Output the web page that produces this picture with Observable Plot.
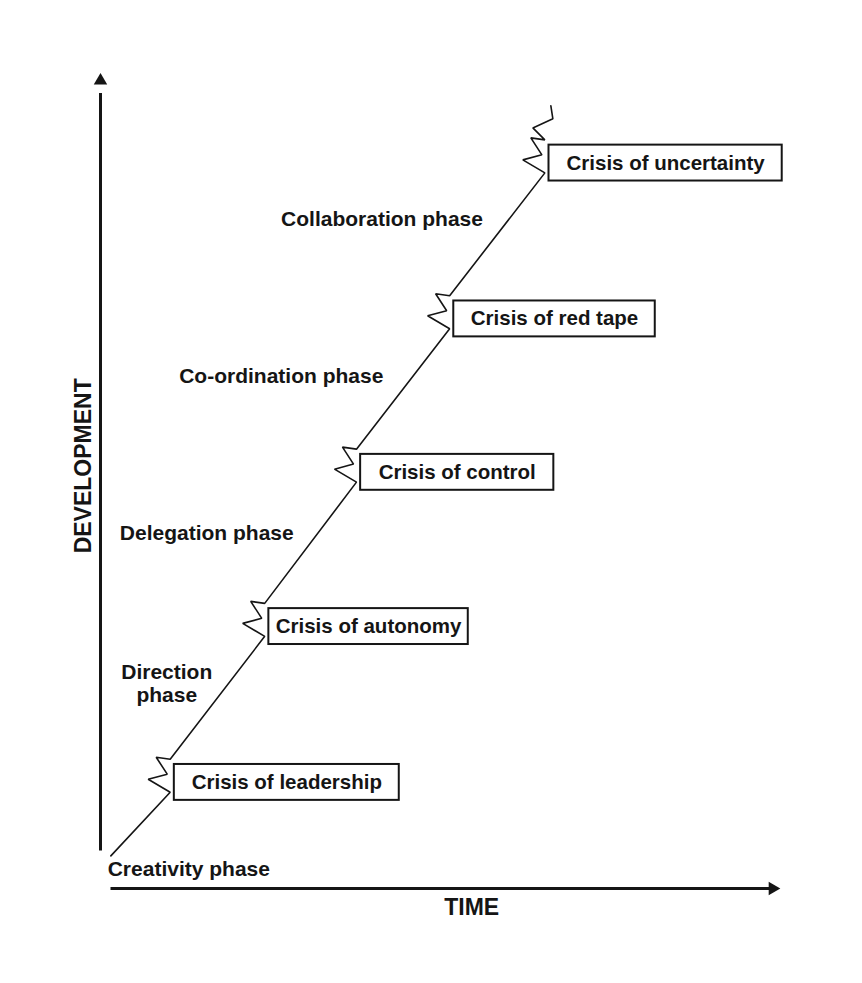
<!DOCTYPE html>
<html>
<head>
<meta charset="utf-8">
<script src="https://cdn.jsdelivr.net/npm/d3@7"></script>
<script src="https://cdn.jsdelivr.net/npm/@observablehq/plot@0.6"></script>
<style>
  html, body { margin: 0; padding: 0; background: #fff; }
  #chart { width: 862px; height: 983px; }
</style>
</head>
<body>
<div id="chart"></div>
<script>
// ---- data (time / development units, 0–100) ----
const startTime = 1.5;
const startDev = 4.0;

const crisisNames = ["Crisis of leadership", "Crisis of autonomy", "Crisis of control", "Crisis of red tape", "Crisis of uncertainty"];
const crisisTime = [10.1, 23.8, 37.1, 50.6, 64.4];   // where each crisis meets its box
const crisisDev = [11.8, 30.9, 49.8, 68.6, 87.7];    // development level at the crisis
const crisisBoxEnd = [43.3, 53.3, 65.7, 80.4, 98.8]; // right edge of each crisis box

const phaseNames = ["Creativity phase", "Direction\nphase", "Delegation phase", "Co-ordination phase", "Collaboration phase"];
const phaseTime = [12.8, 9.6, 15.4, 26.2, 40.8];
const phaseDev = [2.45, 25.2, 43.6, 62.9, 82.1];

const axisLabels = ["DEVELOPMENT", "TIME"];

// lightning-bolt shape of a crisis (offsets in time / development units)
const boltDT = [0, -3.19, -0.43, -2.03, 0];
const boltDD = [0, 1.59, 2.21, 4.29, 4.04];
// extra zig-zag continuing above the last crisis
const tailDT = [-1.74, 1.16, 0.87];
const tailDD = [5.51, 6.62, 8.21];

// ---- build tables ----
const path = [{t: startTime, d: startDev}];
crisisNames.forEach((_, i) => {
  boltDT.forEach((dt, k) => path.push({t: crisisTime[i] + dt, d: crisisDev[i] + boltDD[k]}));
});
const last = crisisNames.length - 1;
tailDT.forEach((dt, k) => path.push({t: crisisTime[last] + dt, d: crisisDev[last] + tailDD[k]}));

const crises = crisisNames.map((name, i) => ({
  name,
  x1: crisisTime[i] + 0.6,
  x2: crisisBoxEnd[i],
  y1: crisisDev[i] - 1.0,
  y2: crisisDev[i] + 3.4
}));
const phases = phaseNames.map((name, i) => ({name, t: phaseTime[i], d: phaseDev[i]}));

const font = "'Liberation Sans Narrow', 'Liberation Sans', sans-serif";
const ink = "#151515";

const chart = Plot.plot({
  width: 862,
  height: 983,
  marginLeft: 100,
  marginRight: 72,
  marginTop: 72,
  marginBottom: 95,
  x: {domain: [0, 100], axis: null},
  y: {domain: [0, 100], axis: null},
  style: {background: "#fff", color: ink},
  marks: [
    // axes
    Plot.link([0], {x1: 0, x2: 0, y1: 4.66, y2: 97.5, stroke: ink, strokeWidth: 3}),
    Plot.dot([0], {x: 0, y: 99.0, symbol: "triangle", r: 5, fill: ink, stroke: "none"}),
    Plot.link([0], {x1: 1.45, x2: 97, y1: 0, y2: 0, stroke: ink, strokeWidth: 3}),
    Plot.dot([0], {x: 97.4, y: 0, symbol: "triangle", r: 5, fill: ink, stroke: "none", rotate: 90}),
    Plot.text([axisLabels[0]], {x: -2.46, y: 51.8, text: d => d, rotate: -90, fontSize: 23, fontWeight: 600, fontFamily: "'Liberation Sans', sans-serif", fill: ink}),
    Plot.text([axisLabels[1]], {x: 53.8, y: -2.4, text: d => d, fontSize: 23, fontWeight: "bold", fontFamily: "'Liberation Sans', sans-serif", fill: ink}),
    // staircase of phases and crises
    Plot.line(path, {x: "t", y: "d", stroke: ink, strokeWidth: 1.6, strokeLinejoin: "miter"}),
    // crisis boxes
    Plot.rect(crises, {x1: "x1", x2: "x2", y1: "y1", y2: "y2", fill: "#fff", stroke: ink, strokeWidth: 2}),
    Plot.text(crises, {x: d => (d.x1 + d.x2) / 2, y: d => (d.y1 + d.y2) / 2, text: "name", fontSize: 20.5, fontWeight: "bold", fontFamily: font, fill: ink}),
    // phase labels
    Plot.text(phases, {x: "t", y: "d", text: "name", fontSize: 21, fontWeight: "bold", fontFamily: font, fill: ink, lineHeight: 1.1})
  ]
});
document.getElementById("chart").appendChild(chart);
</script>
</body>
</html>
